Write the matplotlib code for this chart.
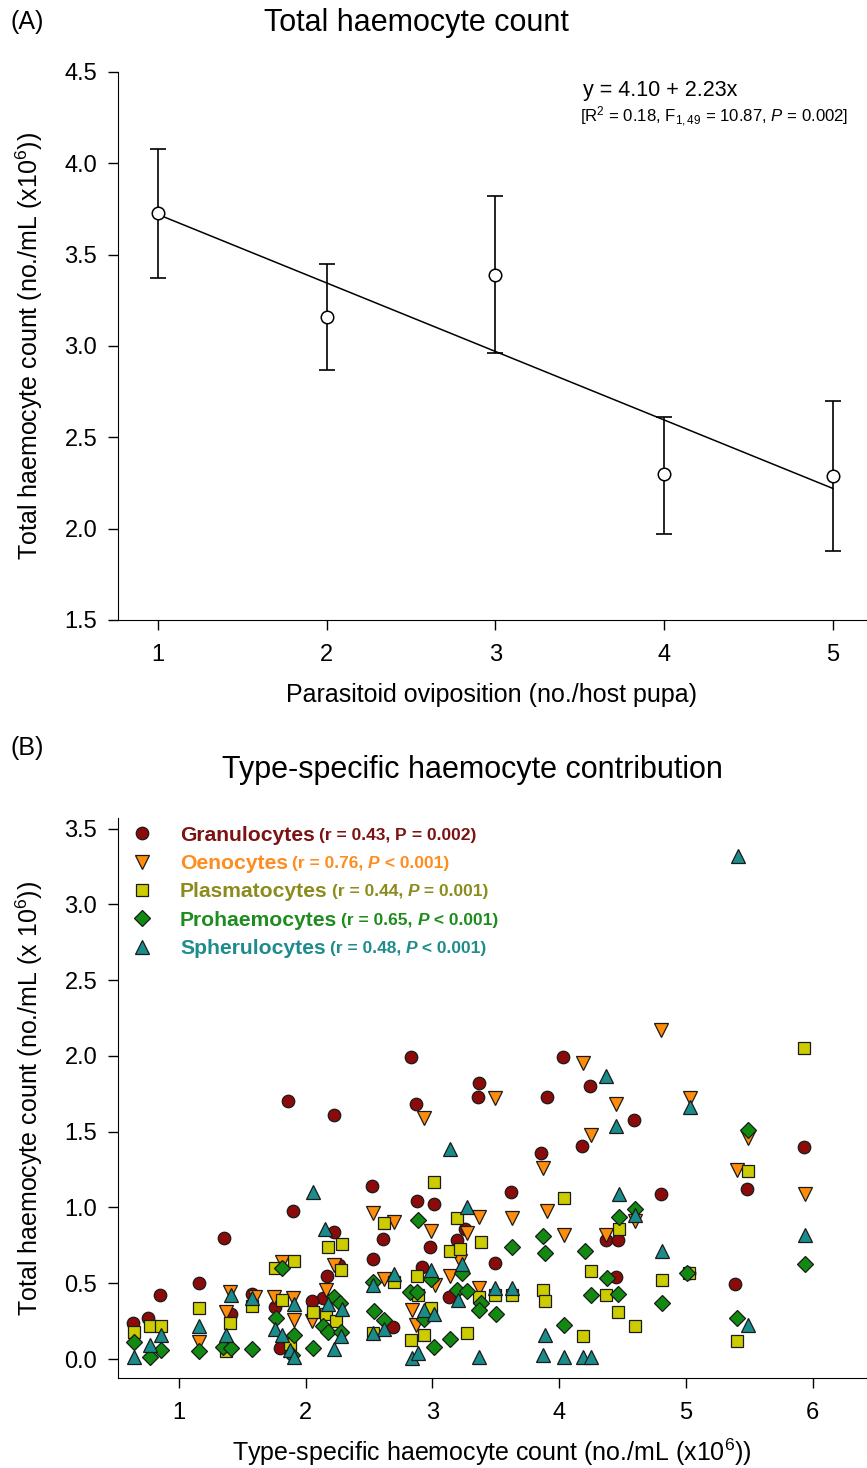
import matplotlib
matplotlib.use("Agg")
import matplotlib.pyplot as plt
import numpy as np

plt.rcParams['font.family'] = ['Liberation Sans', 'DejaVu Sans']
plt.rcParams['mathtext.fontset'] = 'custom'
plt.rcParams['mathtext.rm'] = 'Liberation Sans'
plt.rcParams['mathtext.it'] = 'Liberation Sans:italic'
plt.rcParams['mathtext.bf'] = 'Liberation Sans:bold'

# ---- panel A data ----
ovip = [1, 2, 3, 4, 5]
thc_mean = [3.73, 3.16, 3.39, 2.30, 2.29]
thc_upper = [4.08, 3.45, 3.82, 2.61, 2.70]
thc_lower = [3.37, 2.87, 2.96, 1.97, 1.88]
fit_x = [1, 5]
fit_y = [3.72, 2.22]

# ---- panel B data (x = type-specific count, y = total count) ----
gran_x = [0.64, 0.76, 0.85, 1.16, 1.36, 1.41, 1.58, 1.86, 1.90, 2.22, 2.26, 2.17, 2.22, 2.52, 2.61, 2.53,
          2.69, 1.76, 1.80, 2.14, 2.05, 2.83, 2.87, 2.88, 3.01, 3.26, 3.19, 2.98, 3.49, 2.92, 3.13, 3.37,
          3.36, 3.62, 3.86, 3.90, 4.03, 4.24, 4.59, 4.18, 4.80, 4.37, 4.46, 4.45, 5.48, 5.93, 5.39, 5.02]
gran_y = [0.24, 0.27, 0.42, 0.50, 0.80, 0.30, 0.43, 1.70, 0.975, 0.84, 0.62, 0.55, 1.61, 1.14, 0.79, 0.66,
          0.21, 0.345, 0.07, 0.40, 0.38, 1.99, 1.68, 1.04, 1.02, 0.86, 0.785, 0.74, 0.635, 0.61, 0.41, 1.82,
          1.73, 1.10, 1.36, 1.73, 1.99, 1.80, 1.58, 1.405, 1.09, 0.785, 0.785, 0.54, 1.12, 1.40, 0.495, 0.57]

oeno_x = [1.16, 1.40, 1.37, 1.60, 1.81, 2.22, 2.53, 2.70, 2.62, 2.84, 1.75, 1.90, 1.91, 2.16, 2.05, 2.93,
          3.49, 3.87, 3.37, 3.63, 3.90, 2.99, 3.27, 3.22, 3.14, 3.02, 3.37, 2.87, 4.04, 4.37, 4.60, 4.19,
          4.45, 4.25, 4.80, 5.03, 5.49, 5.40, 5.94]
oeno_y = [0.11, 0.44, 0.31, 0.41, 0.64, 0.62, 0.965, 0.905, 0.525, 0.325, 0.41, 0.40, 0.26, 0.455, 0.25, 1.59,
          1.725, 1.26, 0.94, 0.93, 0.98, 0.845, 0.83, 0.65, 0.55, 0.49, 0.47, 0.225, 0.82, 0.82, 0.91, 1.955,
          1.68, 1.48, 2.17, 1.725, 1.46, 1.25, 1.09]

plas_x = [0.645, 0.77, 0.86, 1.16, 1.40, 1.37, 1.58, 2.18, 2.29, 1.91, 1.76, 2.28, 2.62, 2.70, 1.81, 1.875,
          2.06, 2.16, 2.24, 2.53, 3.01, 3.19, 3.14, 3.22, 3.38, 2.88, 3.37, 3.49, 3.63, 3.87, 3.89, 2.89,
          2.99, 2.835, 2.93, 3.27, 4.04, 4.47, 4.25, 4.81, 4.37, 4.46, 4.60, 4.19, 5.49, 5.02, 5.40, 5.93]
plas_y = [0.18, 0.22, 0.22, 0.34, 0.235, 0.05, 0.35, 0.74, 0.76, 0.65, 0.60, 0.59, 0.90, 0.51, 0.39, 0.10,
          0.31, 0.30, 0.25, 0.175, 1.165, 0.93, 0.71, 0.725, 0.77, 0.55, 0.41, 0.42, 0.42, 0.455, 0.38, 0.42,
          0.34, 0.125, 0.16, 0.175, 1.06, 0.86, 0.58, 0.52, 0.42, 0.31, 0.22, 0.15, 1.24, 0.57, 0.12, 2.05]

proh_x = [0.65, 0.77, 0.86, 1.16, 1.35, 1.41, 1.58, 1.81, 2.53, 2.82, 2.54, 2.62, 1.77, 1.91, 1.89, 2.06,
          2.22, 2.27, 2.14, 2.18, 2.28, 2.89, 3.63, 3.87, 3.89, 3.23, 2.99, 3.19, 3.27, 3.38, 3.37, 3.50,
          2.88, 2.93, 3.01, 3.14, 4.47, 4.60, 4.20, 4.38, 5.01, 4.25, 4.46, 4.81, 4.04, 5.49, 5.94, 5.40]
proh_y = [0.11, 0.015, 0.06, 0.05, 0.08, 0.07, 0.065, 0.60, 0.51, 0.44, 0.32, 0.26, 0.27, 0.16, 0.03, 0.075,
          0.41, 0.37, 0.22, 0.18, 0.18, 0.92, 0.74, 0.81, 0.70, 0.565, 0.53, 0.455, 0.45, 0.37, 0.325, 0.295,
          0.44, 0.265, 0.08, 0.135, 0.94, 0.99, 0.71, 0.535, 0.565, 0.42, 0.43, 0.37, 0.225, 1.51, 0.63, 0.27]

sphe_x = [0.65, 0.77, 0.86, 1.16, 1.41, 1.37, 1.58, 2.06, 2.15, 2.53, 2.70, 2.62, 2.53, 1.91, 1.76, 1.81,
          1.875, 1.91, 2.18, 2.29, 2.28, 2.22, 3.135, 3.27, 3.23, 2.99, 3.20, 3.49, 3.63, 2.93, 3.01, 2.84,
          2.89, 3.37, 3.89, 3.87, 4.37, 4.45, 5.03, 5.41, 4.47, 4.60, 4.81, 4.04, 4.19, 4.25, 5.94, 5.49]
sphe_y = [0.015, 0.09, 0.16, 0.22, 0.42, 0.16, 0.40, 1.10, 0.855, 0.49, 0.56, 0.20, 0.17, 0.36, 0.20, 0.16,
          0.06, 0.015, 0.36, 0.33, 0.15, 0.065, 1.385, 1.00, 0.63, 0.59, 0.39, 0.47, 0.47, 0.325, 0.30, 0.01,
          0.04, 0.015, 0.16, 0.03, 1.87, 1.54, 1.665, 3.32, 1.09, 0.95, 0.71, 0.015, 0.015, 0.015, 0.82, 0.225]

cell_names = ['Granulocytes', 'Oenocytes', 'Plasmatocytes', 'Prohaemocytes', 'Spherulocytes']
cell_stats = [('(r = 0.43, ', 'P', ' = 0.002)', False),
              ('(r = 0.76, ', 'P', ' < 0.001)', True),
              ('(r = 0.44, ', 'P', ' = 0.001)', True),
              ('(r = 0.65, ', 'P', ' < 0.001)', True),
              ('(r = 0.48, ', 'P', ' < 0.001)', True)]
marker_cols = ['#8b0a0a', '#ff8c0a', '#cccc00', '#128a12', '#1a8c8c']
text_cols = ['#7d1212', '#ff8c1e', '#8c8c1e', '#1e8c1e', '#1e8c8c']
markers = ['o', 'v', 's', 'D', '^']
msizes = [9, 9.5, 8.5, 8.5, 9.5]

fig = plt.figure(figsize=(8.67, 14.68), dpi=100)

W, H = 867, 1468
def pos(l, t, r, b):
    return [l / W, 1 - b / H, (r - l) / W, (b - t) / H]

LAB = 18
TICK = 17

# ---------------- panel A ----------------
axA = fig.add_axes(pos(118, 72, 866, 620))
yerr = [np.array(thc_mean) - np.array(thc_lower), np.array(thc_upper) - np.array(thc_mean)]
axA.errorbar(ovip, thc_mean, yerr=yerr, fmt='none', ecolor='black', elinewidth=1.2, capsize=6, capthick=1.2)
axA.plot(fit_x, fit_y, color='black', lw=1.1)
axA.plot(ovip, thc_mean, 'o', mfc='white', mec='black', mew=1.1, ms=9, zorder=5)
axA.set_xlim(0.763, 5.196)
axA.set_ylim(1.5, 4.5)
axA.set_xticks(ovip)
axA.set_yticks(np.arange(1.5, 4.51, 0.5))
axA.yaxis.set_major_formatter(matplotlib.ticker.FormatStrFormatter('%.1f'))
axA.set_xlabel('Parasitoid oviposition (no./host pupa)', fontsize=LAB)
axA.set_ylabel('Total haemocyte count (no./mL (x10$^6$))', fontsize=LAB)
axA.xaxis.set_label_coords(0.5, -0.115)
axA.yaxis.set_label_coords(-0.097, 0.5)
axA.text(0.622, 0.967, 'y = 4.10 + 2.23x', transform=axA.transAxes, fontsize=15.5, va='center')
axA.text(0.618, 0.918, '[R$^2$ = 0.18, F$_{1,49}$ = 10.87, $P$ = 0.002]', transform=axA.transAxes,
         fontsize=12.1, va='center')

# ---------------- panel B ----------------
axB = fig.add_axes(pos(118, 818, 866, 1378))
series_x = [gran_x, oeno_x, plas_x, proh_x, sphe_x]
series_y = [gran_y, oeno_y, plas_y, proh_y, sphe_y]
handles = []
for xs, ys, m, c, ms, name in zip(series_x, series_y, markers, marker_cols, msizes, cell_names):
    h, = axB.plot(xs, ys, m, color=c, mec='#1a1a1a', mew=0.9, ms=ms, label=name, linestyle='none')
    handles.append(h)
axB.set_xlim(0.52, 6.42)
axB.set_ylim(-0.125, 3.57)
axB.set_xticks([1, 2, 3, 4, 5, 6])
axB.set_yticks(np.arange(0, 3.51, 0.5))
axB.yaxis.set_major_formatter(matplotlib.ticker.FormatStrFormatter('%.1f'))
axB.set_xlabel('Type-specific haemocyte count (no./mL (x10$^6$))', fontsize=LAB)
axB.set_ylabel('Total haemocyte count (no./mL (x 10$^6$))', fontsize=LAB)
axB.xaxis.set_label_coords(0.5, -0.104)
axB.yaxis.set_label_coords(-0.097, 0.5)

leg = axB.legend(handles=handles, loc='upper left', bbox_to_anchor=(0.0107, 0.986), frameon=False,
                 borderpad=0, borderaxespad=0, handlelength=1.5, handletextpad=1.06,
                 labelspacing=0.44, prop={'size': 15.2, 'weight': 'bold'})

for ax in (axA, axB):
    ax.spines['top'].set_visible(False)
    ax.spines['right'].set_visible(False)
    ax.tick_params(direction='out', length=7, width=1, labelsize=TICK)
    ax.tick_params(axis='y', pad=8)
    ax.tick_params(axis='x', pad=10)

fig.text(10 / W, 1 - 22 / H, '(A)', fontsize=18, va='center')
fig.text(416 / W, 1 - 23 / H, 'Total haemocyte count', fontsize=22, va='center', ha='center')
fig.text(10 / W, 1 - 748 / H, '(B)', fontsize=18, va='center')
fig.text(472 / W, 1 - 770 / H, 'Type-specific haemocyte contribution', fontsize=22, va='center', ha='center')

# legend texts get their places only at draw time; put the stats after them
fig.canvas.draw()
inv = axB.transAxes.inverted()
for txt, col, (a, p, b, it) in zip(leg.get_texts(), text_cols, cell_stats):
    txt.set_color(col)
    bb = txt.get_window_extent()
    x0, y0 = inv.transform((bb.x1 + 4, bb.y0 + 2))
    t1 = axB.text(x0, y0, a, transform=axB.transAxes, fontsize=12.5, fontweight='bold',
                  color=col, va='bottom')
    t2 = axB.annotate(p, xy=(1, 0), xycoords=t1, fontsize=12.5, fontweight='bold', color=col,
                      va='bottom', style='italic' if it else 'normal')
    axB.annotate(b, xy=(1, 0), xycoords=t2, fontsize=12.5, fontweight='bold', color=col, va='bottom')

fig.savefig('out.png', dpi=100)
